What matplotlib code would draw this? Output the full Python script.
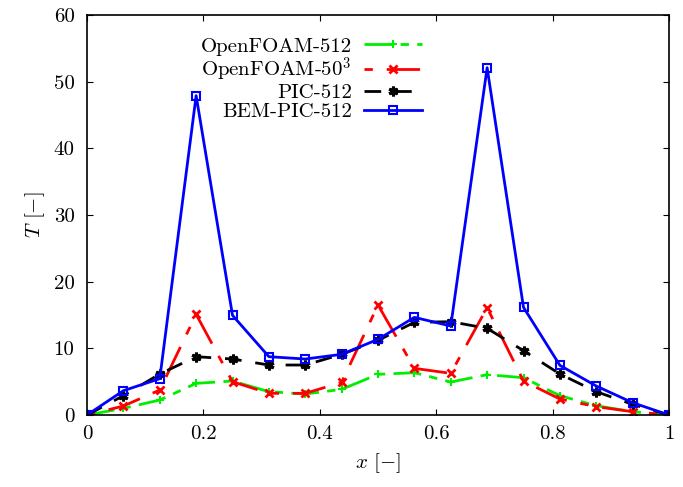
import matplotlib
matplotlib.use('Agg')
import matplotlib.pyplot as plt
from matplotlib.ticker import FormatStrFormatter

plt.rcParams['font.family'] = 'serif'
plt.rcParams['font.serif'] = ['cmr10']
plt.rcParams['mathtext.fontset'] = 'cm'
plt.rcParams['axes.formatter.use_mathtext'] = True

x = [0, 0.0625, 0.125, 0.1875, 0.25, 0.3125, 0.375, 0.4375, 0.5,
     0.5625, 0.625, 0.6875, 0.75, 0.8125, 0.875, 0.9375, 1.0]

of512 = [0, 1.0, 2.25, 4.75, 5.1, 3.5, 3.15, 3.85, 6.1,
         6.35, 4.95, 6.05, 5.6, 2.9, 1.4, 0.5, 0]
of50 = [0, 1.35, 3.75, 15.1, 5.0, 3.25, 3.25, 4.9, 16.5,
        7.0, 6.25, 16.1, 5.1, 2.4, 1.25, 0.5, 0]
pic512 = [0, 2.9, 6.15, 8.75, 8.4, 7.5, 7.5, 9.1, 11.2,
          13.9, 14.0, 13.0, 9.65, 6.15, 3.5, 1.6, 0]
bem512 = [0, 3.65, 5.45, 47.9, 14.95, 8.75, 8.4, 9.1, 11.35,
          14.65, 13.35, 52.1, 16.15, 7.45, 4.35, 1.85, 0]

labels = ['OpenFOAM-512', 'OpenFOAM-50$^3$', 'PIC-512', 'BEM-PIC-512']

fig = plt.figure(figsize=(6.83, 4.87), dpi=100)
ax = fig.add_axes([0.1274, 0.1478, 0.8521, 0.8214])

ax.plot(x, of512, color='#00ee00', lw=2, dashes=(10, 3, 3, 3), marker='+', ms=6, mew=1.5, label=labels[0])
ax.plot(x, of50, color='red', lw=2, dashes=(3, 5, 12, 5), marker='x', ms=6, mew=2, label=labels[1])
ax.plot(x, pic512, color='black', lw=2, dashes=(6, 5), marker=(6, 2, 0), ms=7, mew=2.2, label=labels[2])
ax.plot(x, bem512, color='blue', lw=2, marker='s', ms=6, mfc='none', mew=1.5, label=labels[3])

ax.set_xlim(0, 1)
ax.set_ylim(0, 60)
ax.set_xticks([0, 0.2, 0.4, 0.6, 0.8, 1])
ax.set_yticks([0, 10, 20, 30, 40, 50, 60])
ax.xaxis.set_major_formatter(FormatStrFormatter('%g'))
ax.yaxis.set_major_formatter(FormatStrFormatter('%g'))
ax.tick_params(direction='in', top=True, right=True, labelsize=15, length=4)
ax.tick_params(axis='y', pad=9)
ax.tick_params(axis='x', pad=7)
for s in ax.spines.values():
    s.set_linewidth(1.2)

ax.set_xlabel('$x$ [$-$]', fontsize=15, labelpad=6)
ax.set_ylabel('$T$ [$-$]', fontsize=15, labelpad=5)

ax.legend(loc='upper right', bbox_to_anchor=(0.607, 0.992), frameon=False, markerfirst=False,
          fontsize=15, handlelength=2.75, labelspacing=0.0, handletextpad=0.6)

fig.savefig('out.png', dpi=100)
